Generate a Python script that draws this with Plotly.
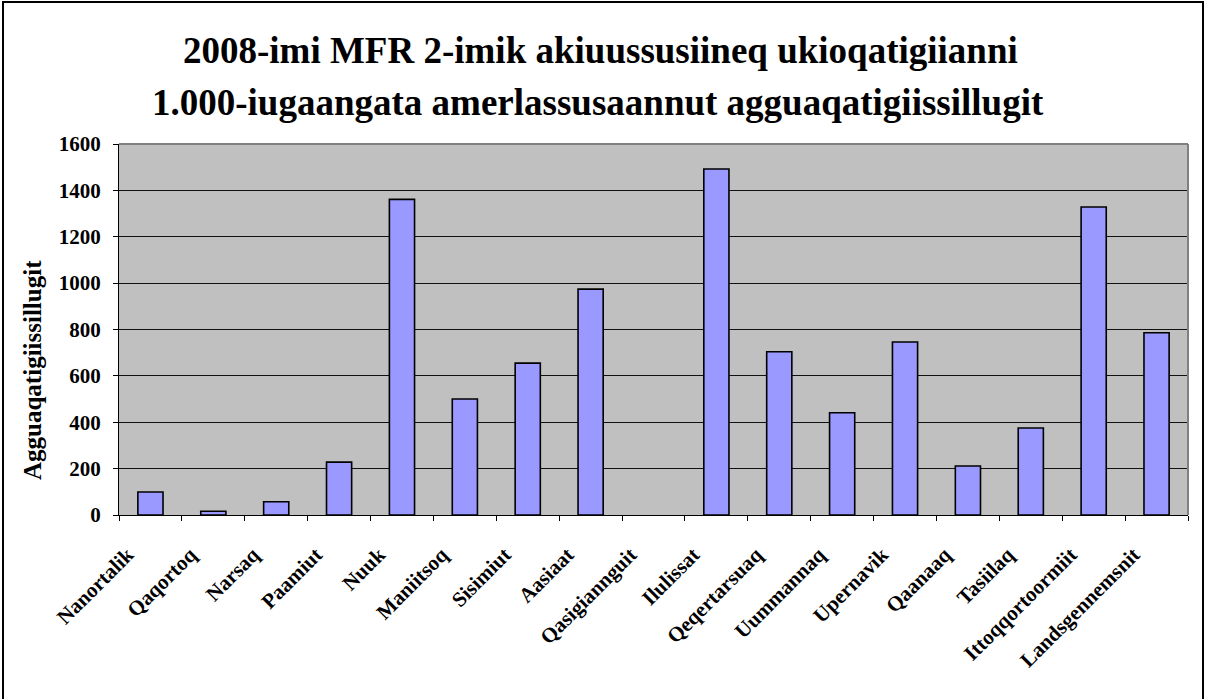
import plotly.graph_objects as go

categories = ["Nanortalik", "Qaqortoq", "Narsaq", "Paamiut", "Nuuk", "Maniitsoq",
              "Sisimiut", "Aasiaat", "Qasigiannguit", "Ilulissat", "Qeqertarsuaq",
              "Uummannaq", "Upernavik", "Qaanaaq", "Tasiilaq", "Ittoqqortoormiit",
              "Landsgennemsnit"]
values = [99, 16, 57, 228, 1361, 500, 655, 974, 0, 1492, 704, 441, 746, 211, 375, 1328, 786]
y_ticks = [0, 200, 400, 600, 800, 1000, 1200, 1400, 1600]

title_line1 = "2008-imi MFR 2-imik akiuussusiineq ukioqatigiianni"
title_line2 = "1.000-iugaangata amerlassusaannut agguaqatigiissillugit"
y_title = "Agguaqatigiissillugit"

W, H = 1205, 699
L, R, T, B = 119, 17, 144, 184
pw, ph = W - L - R, H - T - B

def px(x):
    return (x - L) / pw

def py(y):
    return (H - B - y) / ph

FONT = "Liberation Serif, Times New Roman, serif"

fig = go.Figure(go.Bar(
    x=categories, y=values,
    marker=dict(color="#9999FF",
                line=dict(color="black", width=[0 if v == 0 else 1.6 for v in values])),
    hoverinfo="skip",
))

fig.update_layout(
    width=W, height=H,
    margin=dict(l=L, r=R, t=T, b=B, autoexpand=False),
    paper_bgcolor="white", plot_bgcolor="#C0C0C0",
    bargap=0.6, showlegend=False,
    font=dict(family=FONT, color="black"),
)

fig.update_yaxes(
    range=[0, 1600], tickvals=y_ticks, ticktext=[str(v) for v in y_ticks],
    showgrid=True, gridcolor="#111111", gridwidth=1,
    showline=True, linecolor="black", linewidth=1.3,
    ticks="outside", ticklen=5, tickcolor="black", tickwidth=1.3,
    tickfont=dict(family=FONT, size=21, weight="bold", color="black"),
    ticklabelstandoff=8,
    zeroline=False, automargin=False,
)
fig.update_xaxes(
    showline=True, linecolor="black", linewidth=1.3,
    ticks="outside", ticklen=5, tickcolor="black", tickwidth=1.3,
    tickson="boundaries", showgrid=False,
    tickangle=-45,
    tickfont=dict(family=FONT, size=21, weight="bold", color="black"),
    ticklabelstandoff=18, ticklabelshift=-23,
    automargin=False,
)

shapes = [
    dict(type="line", xref="paper", yref="paper", x0=0, x1=1, y0=1, y1=1,
         line=dict(color="#808080", width=2)),
    dict(type="line", xref="paper", yref="paper", x0=1, x1=1, y0=0, y1=1,
         line=dict(color="#808080", width=2)),
    dict(type="rect", xref="paper", yref="paper",
         x0=px(3), x1=px(1203), y0=py(702), y1=py(2),
         line=dict(color="black", width=2), fillcolor="rgba(0,0,0,0)", layer="above"),
]
fig.update_layout(shapes=shapes)

annotations = [
    dict(text=title_line1, xref="paper", yref="paper", x=px(600), y=py(51),
         xanchor="center", yanchor="middle", showarrow=False,
         font=dict(family=FONT, size=37, weight="bold", color="black")),
    dict(text=title_line2, xref="paper", yref="paper", x=px(598), y=py(103),
         xanchor="center", yanchor="middle", showarrow=False,
         font=dict(family=FONT, size=37, weight="bold", color="black")),
    dict(text=y_title, xref="paper", yref="paper", x=px(32), y=py(370),
         xanchor="center", yanchor="middle", showarrow=False, textangle=-90,
         font=dict(family=FONT, size=25, weight="bold", color="black")),
]
fig.update_layout(annotations=annotations)

fig.write_html("out.html", config={"displayModeBar": False},
               post_script="document.body.style.margin='0';document.body.style.overflow='hidden';")
